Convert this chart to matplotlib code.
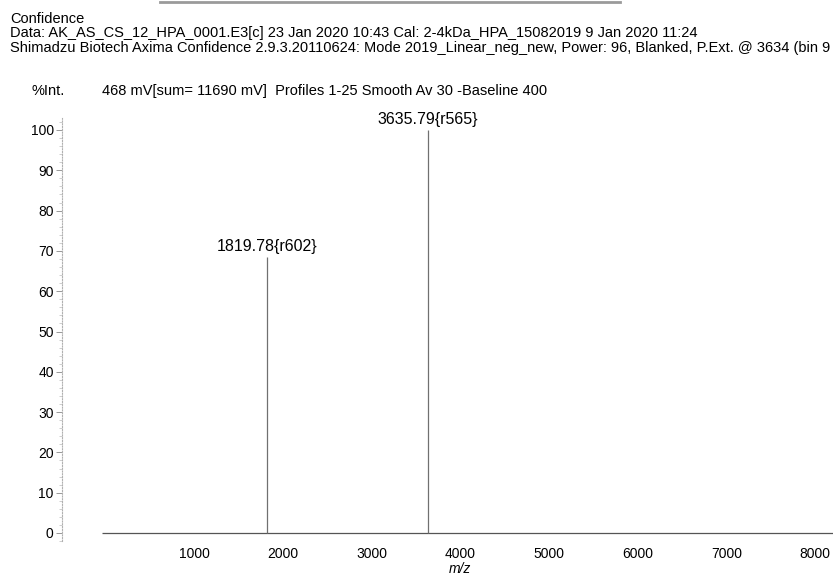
import matplotlib
matplotlib.use("Agg")
import matplotlib.pyplot as plt
from matplotlib.lines import Line2D
from matplotlib.ticker import MultipleLocator

plt.rcParams["font.family"] = ["Liberation Sans", "DejaVu Sans"]

# Peak list (m/z, % intensity, resolution tag)
peak_mz = [1819.78, 3635.79]
peak_int = [68.5, 100.0]
peak_tag = ["r602", "r565"]

# acquisition m/z range of the trace
scan_start, scan_end = -40, 8300

x_ticks = [1000, 2000, 3000, 4000, 5000, 6000, 7000, 8000]
y_ticks = [0, 10, 20, 30, 40, 50, 60, 70, 80, 90, 100]

header = [
    "Confidence",
    "Data: AK_AS_CS_12_HPA_0001.E3[c] 23 Jan 2020 10:43 Cal: 2-4kDa_HPA_15082019 9 Jan 2020 11:24",
    "Shimadzu Biotech Axima Confidence 2.9.3.20110624: Mode 2019_Linear_neg_new, Power: 96, "
    "Blanked, P.Ext. @ 3634 (bin 9",
]
info = "468 mV[sum= 11690 mV]  Profiles 1-25 Smooth Av 30 -Baseline 400"

W, H = 833, 583
fig = plt.figure(figsize=(W / 100, H / 100), dpi=100)


def px(x, y):
    return x / W, 1 - y / H


# header block
for i, line in enumerate(header):
    fig.text(*px(10, 23 + i * 14.5), line, fontsize=10.5, va="baseline", ha="left")
fig.text(*px(32, 95), "%Int.", fontsize=10.5, va="baseline")
fig.text(*px(102, 95), info, fontsize=10.5, va="baseline")
fig.add_artist(Line2D([160 / W, 620 / W], [1 - 1.5 / H] * 2, color="#9a9a9a", lw=2))

# axes box: left spine at x=62px, y=0 at 533px, 4.03 px per %
ax_left = 62 / W
ax_bottom = (H - (533 + 2 * 4.03)) / H
ax_height = (105 * 4.03) / H
ax = fig.add_axes([ax_left, ax_bottom, 1 - ax_left, ax_height])
ax.set_xlim(-490, 8200)
ax.set_ylim(-2, 103)

ax.hlines(0, scan_start, scan_end, color="#555555", lw=0.9)
ax.vlines(peak_mz, 0, peak_int, color="#707070", lw=0.9)
for mz, inten, tag in zip(peak_mz, peak_int, peak_tag):
    ax.annotate(f"{mz:.2f}{{{tag}}}", (mz, inten), xytext=(0, 2),
                textcoords="offset points", ha="center", va="bottom", fontsize=11.5)

for side in ("top", "right", "bottom"):
    ax.spines[side].set_visible(False)
ax.spines["left"].set_color("#b0b0b0")
ax.spines["left"].set_linestyle((0, (1, 1.5)))
ax.spines["left"].set_linewidth(0.8)

ax.set_xticks(x_ticks)
ax.tick_params(axis="x", length=0, pad=4, labelsize=10)
ax.set_yticks(y_ticks)
ax.yaxis.set_minor_locator(MultipleLocator(2))
ax.tick_params(axis="y", which="major", length=4, width=0.6, color="#888888", pad=2, labelsize=10)
ax.tick_params(axis="y", which="minor", length=2, width=0.5, color="#bbbbbb")

ax.set_xlabel("m/z", fontstyle="italic", fontsize=10)
ax.xaxis.set_label_coords((460 - 62) / (W - 62), -0.05)

fig.savefig("out.png", dpi=100)
